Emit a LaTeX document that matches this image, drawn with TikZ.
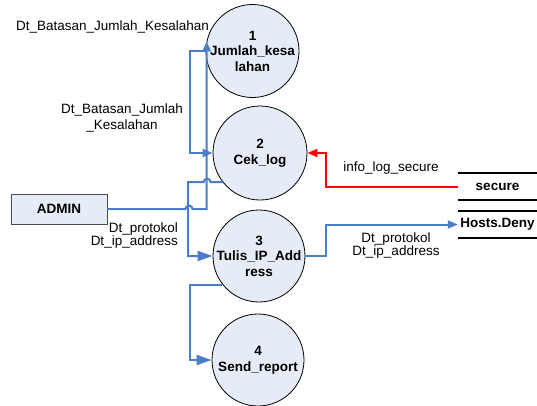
\documentclass[tikz,border=0pt]{standalone}
\usepackage{fontspec}
\setmainfont{Liberation Sans}
\usepackage{tikz}
\usetikzlibrary{arrows.meta}

\definecolor{flowblue}{RGB}{74,126,200}
\definecolor{flowred}{RGB}{255,0,0}
\definecolor{procfill}{RGB}{230,236,247}

\tikzset{
  proc/.style={circle, draw=black, line width=0.8pt, fill=procfill, inner sep=0pt},
  proctext/.style={font=\bfseries\fontsize{13.5}{15.5}\selectfont, align=center},
  ext/.style={draw=black!70, line width=0.8pt, fill=procfill, minimum width=96pt,
    minimum height=30pt, inner sep=0pt, font=\bfseries\fontsize{13.5}{15.5}\selectfont},
  store/.style={minimum width=79pt, minimum height=26pt, inner sep=0pt,
    font=\bfseries\fontsize{13.5}{15.5}\selectfont},
  storeline/.style={draw=black, line width=2pt},
  flow/.style={draw=flowblue, line width=2pt, -{Triangle[length=10pt,width=8pt]}},
  bigflow/.style={flow, -{Triangle[length=15pt,width=10pt]}},
  lbl/.style={font=\fontsize{13.5}{13}\selectfont, inner sep=0pt, align=center}
}

\begin{document}
\begin{tikzpicture}[x=1pt,y=-1pt]
  \useasboundingbox (0,0) rectangle (537,405);

  % processes
  \node[proc, minimum size=93pt, label={[proctext]center:{1\\Jumlah\_kesa\\lahan}}] (p1) at (252.5,51) {};
  \node[proc, minimum size=94pt, label={[proctext]center:{2\\Cek\_log}}] (p2) at (260,153) {};
  \node[proc, minimum size=92pt, label={[proctext]center:{3\\Tulis\_IP\_Add\\ress}}] (p3) at (259,256) {};
  \node[proc, minimum size=92pt, label={[proctext]center:{4\\Send\_report}}] (p4) at (258,360) {};

  % external entity and stores
  \node[ext] (admin) at (59,209) {ADMIN};
  \node[store] (sec) at (497.5,186.5) {secure};
  \node[store] (hd) at (497.5,224.5) {Hosts.Deny};
  \draw[storeline] (sec.north west) -- (sec.north east) (sec.south west) -- (sec.south east);
  \draw[storeline] (hd.north west) -- (hd.north east) (hd.south west) -- (hd.south east);

  % flows
  \draw[flow] (admin.east) -- (185.5,209) arc[start angle=180,end angle=0,radius=3.5pt]
    -- (p1.168 |- admin.east) -- (p1.168);
  \draw[flow] (p1.west) -- ++(-15.5,0) |- (p2.west);
  \draw[bigflow] (p2.218) -- ++(-12,0) arc[start angle=0,end angle=180,radius=3.5pt]
    -- ++(-15.5,0) |- (p3.west);
  \draw[bigflow] (p3.218) -- ++(-32,0) |- (p4.west);
  \draw[flow] (p3.east) -- ++(21,0) |- (hd.west);
  \draw[flow, draw=flowred] (sec.west) -- ++(-132,0) |- (p2.east);

  % labels
  \node[lbl] (l1) at (112.5,27) {Dt\_Batasan\_Jumlah\_Kesalahan};
  \node[lbl, font=\fontsize{13.5}{16.5}\selectfont] (l2) at (122,118) {Dt\_Batasan\_Jumlah\\\_Kesalahan};
  \node[lbl, align=right, anchor=east] (l3) at (178,236) {Dt\_protokol\\Dt\_ip\_address};
  \node[lbl] (l4) at (391,168) {info\_log\_secure};
  \node[lbl] (l5) at (396,246) {Dt\_protokol\\Dt\_ip\_address};
\end{tikzpicture}
\end{document}
